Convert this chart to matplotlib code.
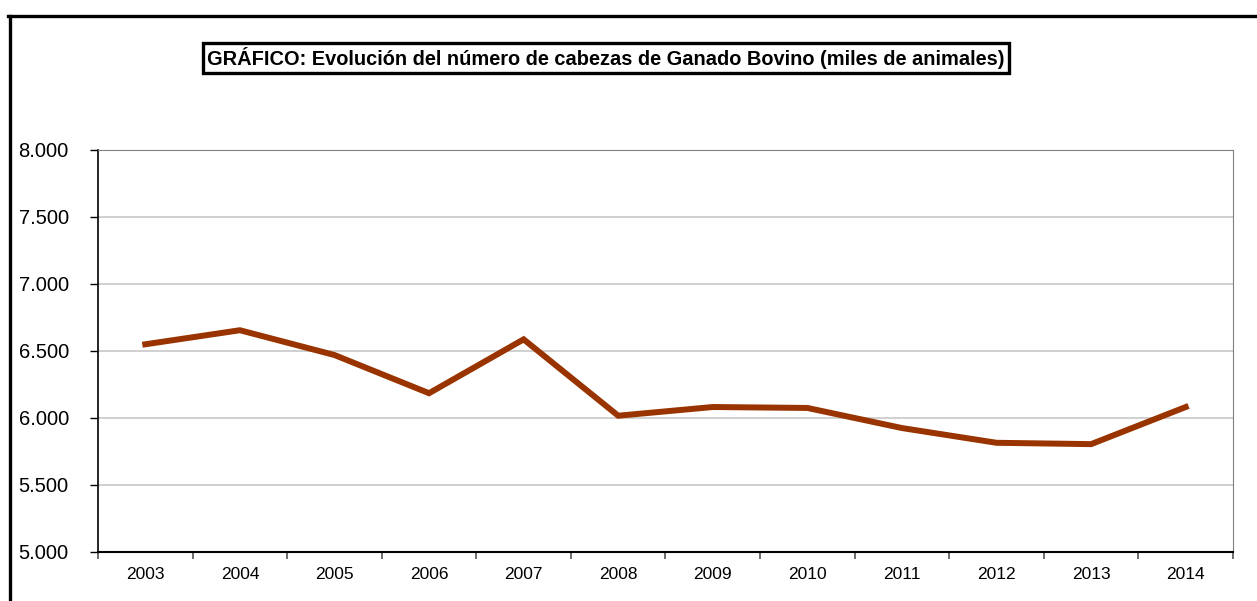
import numpy as np
import matplotlib
matplotlib.use("Agg")
import matplotlib.pyplot as plt
from matplotlib.lines import Line2D
from matplotlib.ticker import FuncFormatter

plt.rcParams['font.family'] = ['Liberation Sans', 'DejaVu Sans']

anios = ['2003', '2004', '2005', '2006', '2007', '2008',
         '2009', '2010', '2011', '2012', '2013', '2014']
cabezas = [6550, 6655, 6470, 6185, 6587, 6017,
           6082, 6075, 5925, 5815, 5805, 6082]
titulo = "GRÁFICO: Evolución del número de cabezas de Ganado Bovino (miles de animales)"

W, H = 1257, 601
fig = plt.figure(figsize=(W/100, H/100), dpi=100)
ax = fig.add_axes([98/W, 1-552/H, (1233-98)/W, (552-150)/H])

x = np.arange(len(anios))
ax.plot(x, cabezas, color='#993300', lw=4.3, solid_joinstyle='miter', zorder=3)

ax.set_xlim(-0.5, len(anios)-0.5)
ax.set_ylim(5000, 8000)
ax.set_yticks(np.arange(5000, 8001, 500))
ax.yaxis.set_major_formatter(FuncFormatter(lambda v, p: f"{int(v):,}".replace(',', '.')))
ax.grid(axis='y', color='#c8c8c8', lw=1.2)
ax.set_axisbelow(True)

ax.set_xticks(x)
ax.set_xticklabels(anios, fontsize=12.5)
ax.set_xticks(np.arange(-0.5, len(anios)), minor=True)
ax.tick_params(axis='x', which='major', length=0, pad=11)
ax.tick_params(axis='x', which='minor', length=5, width=1.2, color='#555555')
ax.tick_params(axis='y', labelsize=14.5, length=6, width=1, pad=15)

ax.spines['left'].set_color('black')
ax.spines['bottom'].set_color('black')
ax.spines['left'].set_linewidth(1.2)
ax.spines['bottom'].set_linewidth(1.5)
ax.spines['top'].set_color('#808080')
ax.spines['right'].set_color('#808080')

# marco exterior
fig.add_artist(Line2D([9.5/W, 9.5/W], [0, 1-16/H], transform=fig.transFigure, color='black', lw=2.4))
fig.add_artist(Line2D([8.3/W, 1], [1-16/H, 1-16/H], transform=fig.transFigure, color='black', lw=2.4))

fig.text(606/W, 1-58/H, titulo, ha='center', va='center', fontsize=14.4, fontweight='bold',
         bbox=dict(boxstyle='square,pad=0.2', fc='white', ec='black', lw=2.4))

fig.savefig('out.png', dpi=100)
